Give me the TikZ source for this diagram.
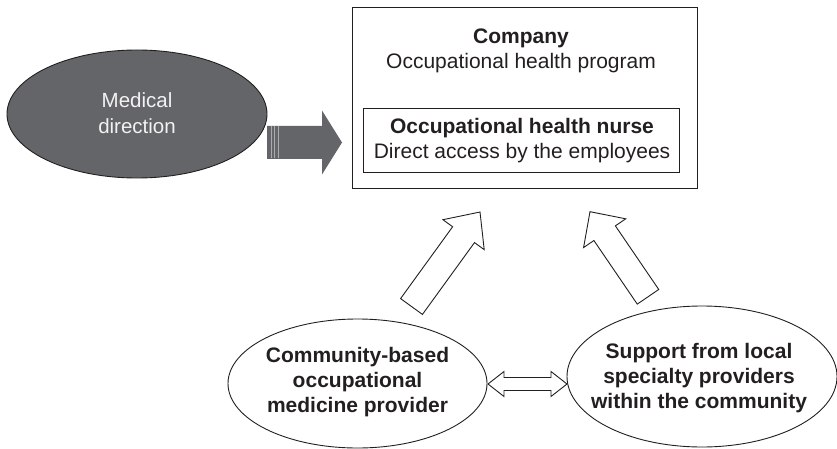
\documentclass[tikz,border=0pt]{standalone}
\usepackage{fontspec}
\setmainfont{Liberation Sans}
\usetikzlibrary{shapes.geometric,calc}
\definecolor{medgray}{RGB}{100,101,104}
\definecolor{inkc}{RGB}{35,31,32}
\definecolor{lighttxt}{RGB}{242,242,242}
\definecolor{stripe}{RGB}{170,171,173}
\newcommand\fatarrow[6]{%
  \coordinate (fab) at ($(#3)!#6!(#2)$);
  \draw[#1] ($(#2)!#4!90:(#3)$) -- ($(fab)!#4!-90:(#2)$) -- ($(fab)!#5!-90:(#2)$) -- (#3)
    -- ($(fab)!#5!90:(#2)$) -- ($(fab)!#4!90:(#2)$) -- ($(#2)!#4!-90:(#3)$) -- cycle;}
\begin{document}
\begin{tikzpicture}[x=1pt,y=-1pt,
  txt/.style={font=\fontsize{21}{25}\selectfont, align=center, text=inkc, inner sep=0pt},
  boldtxt/.style={font=\fontsize{21}{25}\selectfont\bfseries, align=center, text=inkc, inner sep=0pt},
  outline/.style={draw=inkc, line width=0.9pt},
  fat/.style={draw=inkc, line width=0.9pt, fill=white, line join=miter},
  oval/.style={ellipse, draw=inkc, line width=0.9pt, inner sep=0pt}]
\useasboundingbox (0,0) rectangle (837,449);

% company box
\node[outline, minimum width=345pt, minimum height=181pt, inner sep=0pt] (co) at (524.5,97.5) {};
\node[txt] (cotxt) at (521,50.5) {\textbf{Company}\\Occupational health program};
\node[outline, minimum width=316pt, minimum height=64pt, inner sep=0pt] (nu) at (521,140) {};
\node[txt] (nutxt) at (522,140.5) {\textbf{Occupational health nurse}\\Direct access by the employees};

% medical direction
\coordinate (gt) at (267,142.5);
\coordinate (gh) at (342,142.5);
\fatarrow{fill=medgray, draw=none}{gt}{gh}{16.5pt}{32pt}{20pt}
\foreach \xx in {271,274,278}
  \draw[stripe, line width=0.45pt] (\xx,126.5) -- (\xx,158.5);
\node[oval, fill=medgray, minimum width=260pt, minimum height=128pt] (med) at (137,114) {};
\node[txt, text=lighttxt, font=\fontsize{20.5}{26}\selectfont] (medtxt) at (137,113) {Medical\\direction};

% bottom ellipses
\node[oval, minimum width=259pt, minimum height=129pt] (le) at (357.5,383.5) {};
\node[boldtxt] (letxt) at (357.5,382.5) {Community-based\\occupational\\medicine provider};
\node[oval, minimum width=270pt, minimum height=141pt] (re) at (702,376.5) {};
\node[boldtxt] (retxt) at (699,378.5) {Support from local\\specialty providers\\within the community};

% up arrows
\coordinate (lt) at (411.5,306.5);
\coordinate (lh) at (480,212);
\fatarrow{fat}{lt}{lh}{13.5pt}{25.5pt}{28pt}
\coordinate (rt) at (648,296.8);
\coordinate (rh) at (590,211.7);
\fatarrow{fat}{rt}{rh}{13pt}{25.5pt}{26pt}

% double arrow
\coordinate (dl) at (488,384);
\coordinate (dr) at (567,384);
\draw[fat] (dl) -- ($(dl)+(16,-12.5)$) -- ($(dl)+(16,-6.5)$) -- ($(dr)+(-16,-6.5)$) -- ($(dr)+(-16,-12.5)$)
  -- (dr) -- ($(dr)+(-16,12.5)$) -- ($(dr)+(-16,6.5)$) -- ($(dl)+(16,6.5)$) -- ($(dl)+(16,12.5)$) -- cycle;
\end{tikzpicture}
\end{document}
